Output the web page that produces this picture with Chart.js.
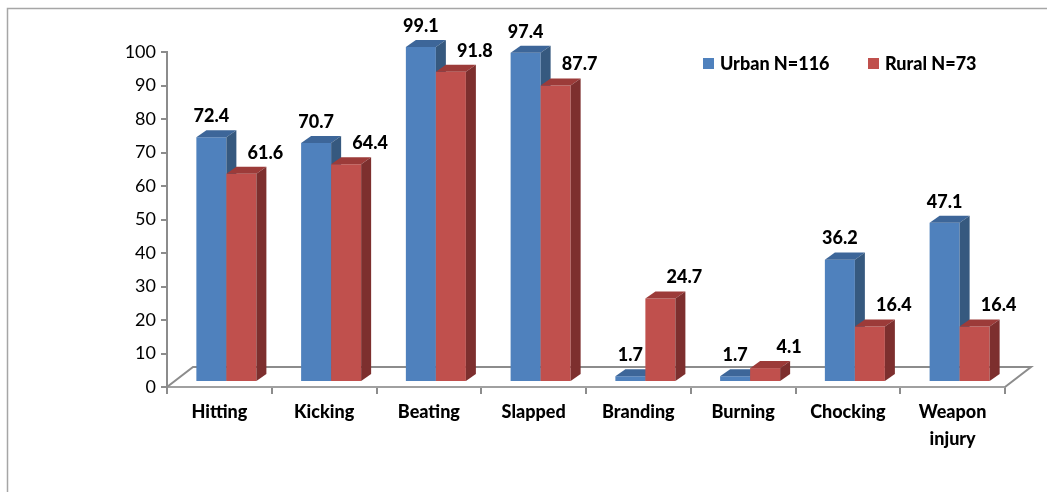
<!DOCTYPE html>
<html>
<head>
<meta charset="utf-8">
<script src="https://cdn.jsdelivr.net/npm/chart.js@4.4.0/dist/chart.umd.min.js"></script>
<style>
html, body { margin: 0; padding: 0; background: #fff; }
#grafico { width: 1047px; height: 492px; }
</style>
</head>
<body>
<div id="grafico"><canvas id="myChart" width="1047" height="492"></canvas></div>
<script>
/* Datos del grafico */
var categorias = ['Hitting', 'Kicking', 'Beating', 'Slapped', 'Branding', 'Burning', 'Chocking', ['Weapon', 'injury']];
var urbano = [72.4, 70.7, 99.1, 97.4, 1.7, 1.7, 36.2, 47.1];
var rural = [61.6, 64.4, 91.8, 87.7, 24.7, 4.1, 16.4, 16.4];
var series = ['Urban N=116', 'Rural N=73'];
var yMin = 0, yMax = 100, yPaso = 10;

var colores = [
	{ frente: '#4F81BD', arriba: '#3D6699', lado: '#36597F' },
	{ frente: '#C0504D', arriba: '#9C3B39', lado: '#7D2F2E' }
];
var gris = '#8C8C8C';
var fuente = 'Lato';
var grueso = '900';

// desplazamiento de las barras (vista 3D)
var desp = { x: 7, y: -5 };
var k = 1.009;
var fondo = { dx: 26, dy: -20 };
var prof = { dx: 10, dy: -7 };

function transformaBarras(ctx, chart) {
	var y0 = chart.scales.y.getPixelForValue(0);
	ctx.translate(desp.x, y0 + desp.y - y0 * k);
	ctx.scale(1, k);
}

var marco = {
	id: 'marco',
	beforeDraw: function(chart) {
		var ctx = chart.ctx;
		ctx.save();
		ctx.fillStyle = '#fff';
		ctx.fillRect(0, 0, chart.width, chart.height);
		ctx.strokeStyle = '#A6A6A6';
		ctx.lineWidth = 1.5;
		ctx.strokeRect(7.5, 8.5, 1200, 700);
		ctx.restore();
	}
};

var suelo = {
	id: 'suelo',
	beforeDatasetsDraw: function(chart) {
		var ctx = chart.ctx, xs = chart.scales.x, y0 = chart.scales.y.getPixelForValue(0);
		ctx.save();
		ctx.strokeStyle = gris;
		ctx.lineWidth = 2;
		ctx.beginPath();
		ctx.moveTo(xs.left, y0);
		ctx.lineTo(xs.left + fondo.dx, y0 + fondo.dy);
		ctx.lineTo(xs.right + fondo.dx, y0 + fondo.dy);
		ctx.lineTo(xs.right, y0);
		ctx.stroke();
		ctx.restore();
	}
};

// las barras se pintan aqui en orden (urbano primero) con su cara superior y lateral
var barras3d = {
	id: 'barras3d',
	beforeDatasetDraw: function(chart, args) {
		return false;
	},
	afterDatasetsDraw: function(chart) {
		var ctx = chart.ctx;
		ctx.save();
		transformaBarras(ctx, chart);
		chart.data.datasets.forEach(function(ds, i) {
			var c = colores[i];
			chart.getDatasetMeta(i).data.forEach(function(el) {
				el.draw(ctx);
				var p = el.getProps(['x', 'y', 'base', 'width'], true);
				var x0 = p.x - p.width / 2, x1 = p.x + p.width / 2;
				ctx.fillStyle = c.arriba;
				ctx.beginPath();
				ctx.moveTo(x0, p.y);
				ctx.lineTo(x0 + prof.dx, p.y + prof.dy);
				ctx.lineTo(x1 + prof.dx, p.y + prof.dy);
				ctx.lineTo(x1, p.y);
				ctx.closePath();
				ctx.fill();
				ctx.fillStyle = c.lado;
				ctx.beginPath();
				ctx.moveTo(x1, p.y);
				ctx.lineTo(x1 + prof.dx, p.y + prof.dy);
				ctx.lineTo(x1 + prof.dx, p.base + prof.dy);
				ctx.lineTo(x1, p.base);
				ctx.closePath();
				ctx.fill();
			});
		});
		ctx.restore();
	}
};

var etiquetasValor = {
	id: 'etiquetasValor',
	afterDatasetsDraw: function(chart) {
		var ctx = chart.ctx;
		var y0 = chart.scales.y.getPixelForValue(0);
		ctx.save();
		ctx.font = grueso + ' 18px ' + fuente;
		ctx.fillStyle = '#000';
		ctx.textAlign = 'center';
		ctx.textBaseline = 'middle';
		chart.data.datasets.forEach(function(ds, i) {
			chart.getDatasetMeta(i).data.forEach(function(el, j) {
				var yb = k * el.y + y0 + desp.y - y0 * k;
				var xb = el.x + desp.x + (i == 1 ? 24 : 0);
				ctx.fillText(ds.data[j].toFixed(1), xb, yb - 21);
			});
		});
		ctx.restore();
	}
};

var leyenda = {
	id: 'leyenda',
	afterDraw: function(chart) {
		var ctx = chart.ctx;
		var pos = [703, 868];
		ctx.save();
		ctx.font = grueso + ' 18px ' + fuente;
		ctx.textBaseline = 'middle';
		ctx.textAlign = 'left';
		chart.data.datasets.forEach(function(ds, i) {
			ctx.fillStyle = colores[i].frente;
			ctx.fillRect(pos[i], 58, 11, 11);
			ctx.fillStyle = '#000';
			ctx.fillText(ds.label, pos[i] + 17, 64);
		});
		ctx.restore();
	}
};

var ctx = document.getElementById('myChart').getContext('2d');
var myChart = new Chart(ctx, {
	type: 'bar',
	data: {
		labels: categorias,
		datasets: [
			{ label: series[0], data: urbano, backgroundColor: colores[0].frente },
			{ label: series[1], data: rural, backgroundColor: colores[1].frente }
		]
	},
	options: {
		responsive: false,
		devicePixelRatio: 1,
		animation: false,
		events: [],
		categoryPercentage: 0.573,
		barPercentage: 1.0,
		layout: { padding: { top: 52, right: 42, left: 0, bottom: 0 } },
		plugins: {
			legend: { display: false },
			tooltip: { enabled: false }
		},
		scales: {
			x: {
				afterFit: function(s) { s.height = 105; },
				border: { display: true, color: '#A0A0A0', width: 2 },
				grid: { display: true, drawOnChartArea: false, offset: true, tickLength: 7, color: gris, lineWidth: 2 },
				ticks: { color: '#000', padding: 5, font: { family: fuente, size: 18, weight: grueso, lineHeight: 1.5 } }
			},
			y: {
				min: yMin,
				max: yMax,
				afterFit: function(s) { s.width = 167; },
				border: { display: true, color: gris, width: 2 },
				grid: { display: true, drawOnChartArea: false, tickLength: 6, color: gris, lineWidth: 2 },
				ticks: { stepSize: yPaso, color: '#000', padding: 5, font: { family: fuente, size: 18 } }
			}
		}
	},
	plugins: [marco, suelo, barras3d, etiquetasValor, leyenda]
});
</script>
</body>
</html>
